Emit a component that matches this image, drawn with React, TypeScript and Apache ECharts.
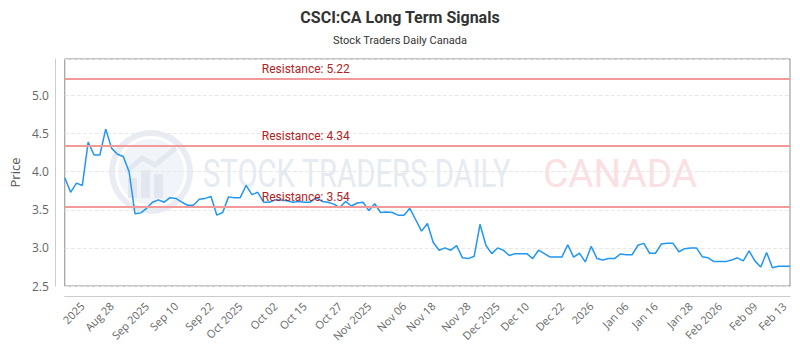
import React, { useEffect, useRef } from "react";
import * as echarts from "echarts";

const titleText = "CSCI:CA Long Term Signals";
const subtitleText = "Stock Traders Daily Canada";

const tickLabels = [
  "2025", "Aug 28", "Sep 2025", "Sep 10", "Sep 22", "Oct 2025", "Oct 02", "Oct 15",
  "Oct 27", "Nov 2025", "Nov 06", "Nov 18", "Nov 28", "Dec 2025", "Dec 10", "Dec 22",
  "2026", "Jan 06", "Jan 16", "Jan 28", "Feb 2026", "Feb 09", "Feb 13",
];

const prices = [
  3.92, 3.73, 3.85, 3.82, 4.39, 4.22, 4.22, 4.56, 4.31, 4.23, 4.2, 4.0, 3.45, 3.46, 3.52,
  3.6, 3.63, 3.6, 3.66, 3.65, 3.6, 3.56, 3.56, 3.64, 3.65, 3.675, 3.43, 3.465, 3.67, 3.66,
  3.66, 3.82, 3.7, 3.73, 3.6, 3.6, 3.63, 3.63, 3.62, 3.6, 3.61, 3.6, 3.6,
  3.66, 3.61, 3.6, 3.575, 3.53, 3.61, 3.55, 3.59, 3.6, 3.49, 3.58, 3.465, 3.47, 3.465,
  3.43, 3.43, 3.52, 3.37, 3.22, 3.32,
  3.07, 2.97, 3.0, 2.97, 3.03, 2.87, 2.86, 2.89, 3.31, 3.035,
  2.925, 3.0, 2.97, 2.9, 2.925, 2.925, 2.925, 2.86, 2.97, 2.925,
  2.88, 2.88, 2.88, 3.04, 2.88, 2.93, 2.816, 3.02, 2.86, 2.84,
  2.86, 2.86, 2.92, 2.91, 2.91, 3.035, 3.06, 2.93, 2.93, 3.05,
  3.06, 3.06, 2.95, 2.99, 3.0, 3.0, 2.885, 2.87, 2.82, 2.82,
  2.82, 2.84, 2.87, 2.83, 2.96, 2.83, 2.75, 2.94, 2.74, 2.76,
  2.76, 2.76,
];

const resistanceLevels = [5.22, 4.34, 3.54];

const yMin = 2.5;
const yMax = 5.48;
const yStep = 0.5;

export default function App() {
  const ref = useRef<HTMLDivElement>(null);

  useEffect(() => {
    if (!ref.current) return;
    const chart = echarts.init(ref.current, null, { renderer: "svg" });

    const categories = prices.map((_, i) => String(i));
    // spread tick labels evenly across the category axis
    const firstPos = 2.8;
    const lastPos = 123.3;
    const labelMap = new Map<number, string>();
    tickLabels.forEach((t, k) => {
      const pos = Math.round(firstPos + (k * (lastPos - firstPos)) / (tickLabels.length - 1));
      labelMap.set(pos, t);
    });

    chart.setOption({
      animation: false,
      backgroundColor: "#ffffff",
      textStyle: { fontFamily: "'Open Sans', sans-serif" },
      title: {
        text: titleText,
        subtext: subtitleText,
        left: "center",
        top: 4,
        itemGap: 10,
        textStyle: {
          fontFamily: "Roboto, sans-serif",
          fontSize: 16,
          fontWeight: "bold",
          color: "#333333",
        },
        subtextStyle: {
          fontFamily: "Roboto, sans-serif",
          fontSize: 11,
          color: "#333333",
        },
      },
      graphic: [
        {
          type: "ring",
          shape: { cx: 151, cy: 172, r: 42, r0: 36 },
          style: { fill: "#e9edf3" },
          z: 0,
        },
        {
          type: "circle",
          shape: { cx: 151, cy: 172, r: 33 },
          style: { fill: "#f1f4f8" },
          z: 0,
        },
        {
          type: "rect",
          shape: { x: 128, y: 178, width: 9, height: 20 },
          style: { fill: "#e3e8f0" },
          z: 0,
        },
        {
          type: "rect",
          shape: { x: 141, y: 170, width: 9, height: 28 },
          style: { fill: "#e3e8f0" },
          z: 0,
        },
        {
          type: "rect",
          shape: { x: 154, y: 174, width: 9, height: 24 },
          style: { fill: "#e3e8f0" },
          z: 0,
        },
        {
          type: "polyline",
          shape: { points: [[126, 172], [142, 158], [155, 165], [176, 148]] },
          style: { stroke: "#e3e8f0", lineWidth: 5, fill: "none" },
          z: 0,
        },
        {
          type: "text",
          x: 203,
          y: 155,
          scaleX: 0.77,
          style: {
            text: "STOCK TRADERS DAILY",
            font: "38px Roboto, sans-serif",
            fill: "#e6eaf1",
          },
          z: 0,
        },
        {
          type: "text",
          x: 543,
          y: 155,
          scaleX: 1.02,
          style: {
            text: "CANADA",
            font: "38px Roboto, sans-serif",
            fill: "#fbdfe2",
          },
          z: 0,
        },
      ],
      grid: {
        left: 63,
        right: 10,
        top: 59,
        bottom: 64,
        show: true,
        borderColor: "#8c8c8c",
        borderWidth: 1,
        backgroundColor: "transparent",
      },
      xAxis: {
        type: "category",
        data: categories,
        boundaryGap: false,
        offset: 10,
        axisLine: { show: true, lineStyle: { color: "#cccccc" } },
        axisTick: { show: false },
        splitLine: { show: false },
        axisLabel: {
          rotate: 45,
          interval: (index: number) => labelMap.has(index),
          formatter: (_v: string, index: number) => labelMap.get(index) ?? "",
          color: "#666666",
          fontSize: 11,
          margin: 8,
        },
      },
      yAxis: {
        type: "value",
        min: yMin,
        max: yMax,
        interval: yStep,
        offset: 10,
        name: "Price",
        nameLocation: "middle",
        nameGap: 32,
        nameTextStyle: { color: "#555555", fontSize: 13 },
        axisLine: { show: true, lineStyle: { color: "#cccccc" } },
        axisTick: { show: false },
        axisLabel: {
          color: "#666666",
          fontSize: 12,
          margin: 6,
          showMaxLabel: false,
          formatter: (v: number) => v.toFixed(1),
        },
        splitLine: {
          show: true,
          lineStyle: { color: "#e8e8e8", type: "dashed", width: 1 },
        },
      },
      series: [
        {
          type: "line",
          data: prices,
          showSymbol: false,
          symbol: "none",
          lineStyle: { color: "#2196f3", width: 1.5 },
          z: 3,
          markLine: {
            silent: true,
            symbol: "none",
            lineStyle: { color: "#f29a9a", width: 2, type: "solid" },
            label: {
              show: true,
              position: "insideStartTop",
              distance: [197, 4],
              color: "#b22222",
              fontSize: 12,
              fontFamily: "Roboto, sans-serif",
            },
            data: resistanceLevels.map((v) => ({
              yAxis: v,
              label: { formatter: "Resistance: " + v.toFixed(2) },
            })),
          },
        },
      ],
    });

    return () => chart.dispose();
  }, []);

  return (
    <div
      ref={ref}
      style={{ position: "absolute", left: 0, top: 0, width: 800, height: 350 }}
    />
  );
}
